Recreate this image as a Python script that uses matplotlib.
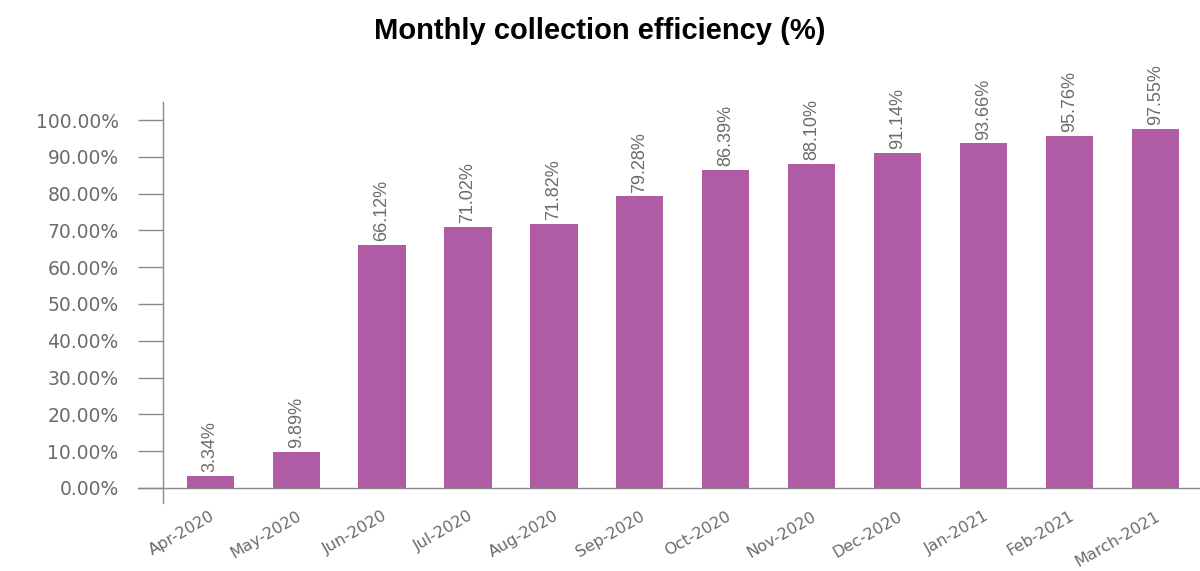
import matplotlib
matplotlib.use("Agg")
import matplotlib.pyplot as plt

months = ["Apr-2020", "May-2020", "Jun-2020", "Jul-2020", "Aug-2020", "Sep-2020",
          "Oct-2020", "Nov-2020", "Dec-2020", "Jan-2021", "Feb-2021", "March-2021"]
efficiency = [3.34, 9.89, 66.12, 71.02, 71.82, 79.28, 86.39, 88.10, 91.14, 93.66, 95.76, 97.55]
value_labels = ["3.34%", "9.89%", "66.12%", "71.02%", "71.82%", "79.28%",
                "86.39%", "88.10%", "91.14%", "93.66%", "95.76%", "97.55%"]
y_ticks = [0, 10, 20, 30, 40, 50, 60, 70, 80, 90, 100]
y_tick_labels = ["0.00%", "10.00%", "20.00%", "30.00%", "40.00%", "50.00%",
                 "60.00%", "70.00%", "80.00%", "90.00%", "100.00%"]

bar_color = "#B05CA4"
gray = "#6b6b6b"
line_gray = "#8a8a8a"

fig = plt.figure(figsize=(12, 5.71), dpi=100)
ax = fig.add_axes([0.1358, 0.1191, 0.8642, 0.7023])

x = list(range(len(months)))
ax.bar(x, efficiency, width=0.55, color=bar_color, zorder=2)

for xi, v, lab in zip(x, efficiency, value_labels):
    ax.text(xi, v + 1.0, lab, rotation=90, ha="center", va="bottom",
            fontsize=13, color=gray, fontstretch="condensed",
            family="Liberation Sans")

ax.set_xlim(-0.55, 11.52)
ax.set_ylim(-4.1, 104.9)

ax.set_yticks(y_ticks)
ax.set_yticklabels(y_tick_labels, fontsize=13.5, color=gray, family="DejaVu Sans")
ax.tick_params(axis="y", direction="out", length=18, width=1.0, color=line_gray, pad=14)

ax.set_xticks(x)
ax.set_xticklabels(months, rotation=30, ha="right", rotation_mode="anchor",
                   fontsize=11.5, color=gray, family="DejaVu Sans")
ax.tick_params(axis="x", length=0, pad=4)

for s in ["top", "right", "bottom"]:
    ax.spines[s].set_visible(False)
ax.spines["left"].set_color(line_gray)
ax.spines["left"].set_linewidth(1.0)

ax.axhline(0, xmin=-0.024, xmax=1.0, color=line_gray, linewidth=1.0, clip_on=False, zorder=3)

fig.text(0.5, 0.946, "Monthly collection efficiency (%)", ha="center", va="center",
         fontsize=21, fontweight="bold", color="black", fontstretch="normal",
         family="Liberation Sans")

fig.savefig("out.png", dpi=100)
